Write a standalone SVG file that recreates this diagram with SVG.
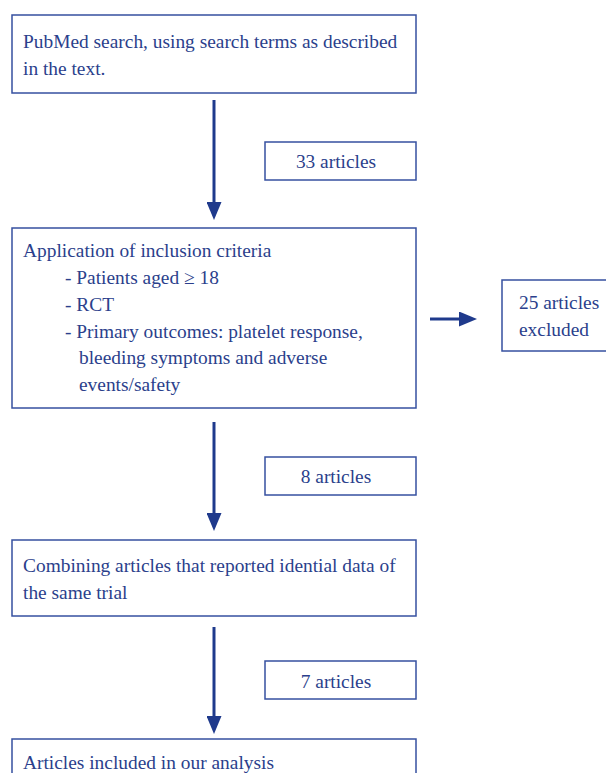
<svg xmlns="http://www.w3.org/2000/svg" width="606" height="773" viewBox="0 0 606 773">
<style>
.box{fill:#fff;stroke:#3650a0;stroke-width:1.5}
.t{font-family:"Liberation Serif","Times New Roman",serif;font-size:19.4px;fill:#2b3f8c}
.c{stroke:#1f3a8c;stroke-width:3;fill:none}
</style>
<defs>
<marker id="ah" markerWidth="18" markerHeight="15" refX="1" refY="7.5" orient="auto" markerUnits="userSpaceOnUse">
<path d="M0,0 L18,7.5 L0,15 z" fill="#1f3a8c"/>
</marker>
</defs>
<rect width="606" height="773" fill="#fff"/>
<g id="connectors">
<line class="c" x1="214" y1="100" x2="214" y2="203" marker-end="url(#ah)"/>
<line class="c" x1="214" y1="422" x2="214" y2="514" marker-end="url(#ah)"/>
<line class="c" x1="214" y1="627" x2="214" y2="717" marker-end="url(#ah)"/>
<line class="c" x1="430" y1="319" x2="460" y2="319" marker-end="url(#ah)"/>
</g>
<g id="search">
<rect class="box" x="12" y="15" width="404" height="78"/>
<text class="t" x="23" y="48">PubMed search, using search terms as described</text>
<text class="t" x="23" y="75">in the text.</text>
</g>
<g id="n33">
<rect class="box" x="265" y="142" width="151" height="38"/>
<text class="t" x="336" y="168" text-anchor="middle">33 articles</text>
</g>
<g id="inclusion">
<rect class="box" x="12" y="228" width="404" height="180"/>
<text class="t" x="23" y="257">Application of inclusion criteria</text>
<text class="t" x="65" y="284">- Patients aged ≥ 18</text>
<text class="t" x="65" y="311">- RCT</text>
<text class="t" x="65" y="338">- Primary outcomes: platelet response,</text>
<text class="t" x="79" y="364">bleeding symptoms and adverse</text>
<text class="t" x="79" y="391">events/safety</text>
</g>
<g id="excluded">
<rect class="box" x="502" y="280" width="110" height="71"/>
<text class="t" x="519" y="309">25 articles</text>
<text class="t" x="519" y="336">excluded</text>
</g>
<g id="n8">
<rect class="box" x="265" y="457" width="151" height="38"/>
<text class="t" x="336" y="483" text-anchor="middle">8 articles</text>
</g>
<g id="combining">
<rect class="box" x="12" y="540" width="404" height="76"/>
<text class="t" x="23" y="572">Combining articles that reported idential data of</text>
<text class="t" x="23" y="599">the same trial</text>
</g>
<g id="n7">
<rect class="box" x="265" y="661" width="151" height="38"/>
<text class="t" x="336" y="688" text-anchor="middle">7 articles</text>
</g>
<g id="included">
<rect class="box" x="12" y="739" width="404" height="50"/>
<text class="t" x="23" y="769">Articles included in our analysis</text>
</g>
</svg>
